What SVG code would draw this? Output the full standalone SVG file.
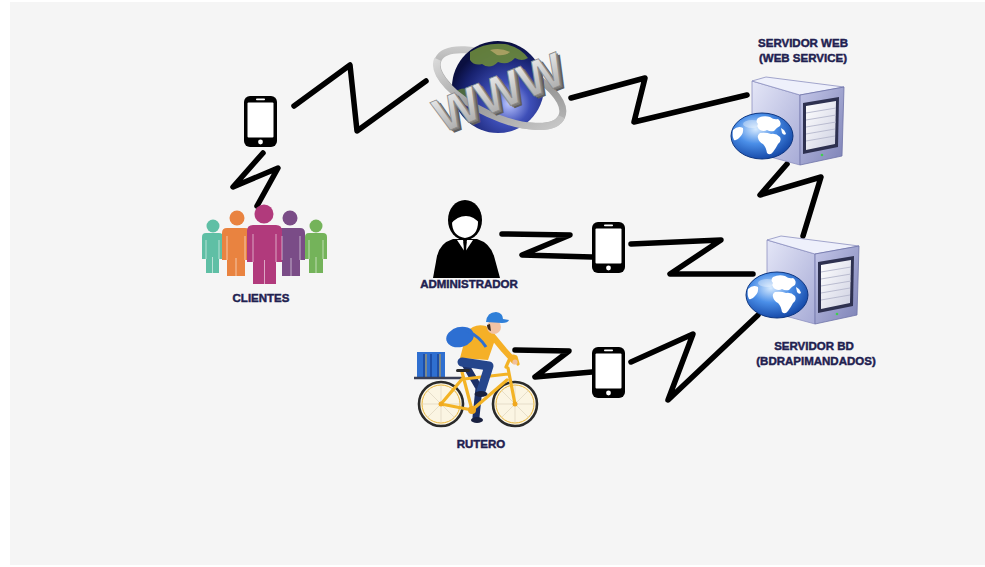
<svg xmlns="http://www.w3.org/2000/svg" xmlns:xlink="http://www.w3.org/1999/xlink" width="985" height="567" viewBox="0 0 985 567">
  <style>
    .wire { fill: none; stroke: #000; stroke-width: 5.5; stroke-linecap: round; stroke-linejoin: round; }
    .label { font-family: "Liberation Sans", Arial, sans-serif; font-weight: bold; font-size: 11.5px; fill: #1f2150; stroke: #1f2150; stroke-width: 0.45; text-anchor: middle; }
    .sep { stroke: #ffffff; stroke-opacity: 0.55; stroke-width: 1; fill: none; }
    .spoke { stroke: #d8cfb8; stroke-width: 0.6; }
    .frame { fill: none; stroke: #f3b325; stroke-width: 3.2; stroke-linecap: round; stroke-linejoin: round; }
    .leg { fill: none; stroke-linecap: round; stroke-linejoin: round; }
  </style>
  <defs>
    <!-- gradients for the network globe -->
    <radialGradient id="earth" cx="0.62" cy="0.68" r="0.65">
      <stop offset="0" stop-color="#b9c4ff"/>
      <stop offset="0.35" stop-color="#3e4fb8"/>
      <stop offset="0.8" stop-color="#17216e"/>
      <stop offset="1" stop-color="#0a0f40"/>
    </radialGradient>
    <linearGradient id="ringGrad" x1="0" y1="0" x2="1" y2="1">
      <stop offset="0" stop-color="#d9d9d9"/>
      <stop offset="0.5" stop-color="#9a9a9a"/>
      <stop offset="1" stop-color="#c8c8c8"/>
    </linearGradient>
    <linearGradient id="wwwFace" x1="0" y1="0" x2="0" y2="1">
      <stop offset="0" stop-color="#f4f4f4"/>
      <stop offset="1" stop-color="#a0a0a0"/>
    </linearGradient>
    <!-- server tower shading -->
    <linearGradient id="srvSide" x1="0" y1="0" x2="1" y2="1">
      <stop offset="0" stop-color="#e4e6f7"/>
      <stop offset="1" stop-color="#a7abd6"/>
    </linearGradient>
    <linearGradient id="srvFront" x1="0" y1="0" x2="1" y2="1">
      <stop offset="0" stop-color="#c3c6e8"/>
      <stop offset="1" stop-color="#7d82b6"/>
    </linearGradient>
    <linearGradient id="panel" x1="0" y1="0" x2="1" y2="1">
      <stop offset="0" stop-color="#ffffff"/>
      <stop offset="1" stop-color="#cfd1e2"/>
    </linearGradient>
    <radialGradient id="netGlobe" cx="0.4" cy="0.35" r="0.7">
      <stop offset="0" stop-color="#d6eaff"/>
      <stop offset="0.45" stop-color="#4b8fe8"/>
      <stop offset="1" stop-color="#1042a2"/>
    </radialGradient>

    <!-- smartphone -->
    <g id="phone">
      <rect x="0" y="0" width="33" height="51" rx="6" fill="#000"/>
      <rect x="3.5" y="6.5" width="26" height="35" rx="1" fill="#fff"/>
      <rect x="12" y="2.6" width="9" height="1.6" rx="0.8" fill="#fff"/>
      <circle cx="16.5" cy="46" r="2.4" fill="#fff"/>
    </g>

    <!-- server tower with globe badge, origin at tower top-left -->
    <g id="server">
      <polygon points="0,4 48,18 48,88 0,75" fill="url(#srvSide)" stroke="#8d91c0" stroke-width="0.8"/>
      <polygon points="0,4 14,0 92,10 48,18" fill="#eef0fb" stroke="#8d91c0" stroke-width="0.8"/>
      <polygon points="48,18 92,10 90,79 48,88" fill="url(#srvFront)" stroke="#6e73a8" stroke-width="0.8"/>
      <polygon points="51,26 87,20 86,70 51,77" fill="#2e3150"/>
      <polygon points="54,29 84,24 83,67 54,73" fill="url(#panel)"/>
      <g stroke="#b4b7cc" stroke-width="0.9">
        <line x1="54" y1="36" x2="84" y2="31"/>
        <line x1="54" y1="43" x2="84" y2="38"/>
        <line x1="54" y1="50" x2="84" y2="45"/>
        <line x1="54" y1="57" x2="83" y2="52"/>
        <line x1="54" y1="64" x2="83" y2="59"/>
      </g>
      <circle cx="70" cy="78" r="1.3" fill="#3fcf4f"/>
      <g transform="translate(10,59)">
        <ellipse cx="0" cy="0" rx="31" ry="23" fill="url(#netGlobe)" stroke="#0d3580" stroke-width="1"/>
        <path d="M-4,-18 Q2,-21 8,-19 Q12,-16 16,-17 Q20,-14 18,-10 Q14,-8 12,-5 Q8,-4 5,-6 Q2,-4 -2,-6 Q-6,-9 -4,-12 Q-7,-15 -4,-18 Z" fill="#fff"/>
        <path d="M-2,-3 Q4,-4 9,-2 Q14,-3 18,1 Q20,5 16,8 Q14,12 11,16 Q8,20 5,17 Q4,11 1,8 Q-3,6 -4,2 Q-5,-1 -2,-3 Z" fill="#fff"/>
        <path d="M-29,-6 Q-24,-11 -19,-8 Q-18,-3 -22,1 Q-25,5 -28,4 Q-30,0 -29,-6 Z" fill="#fff"/>
        <path d="M19,-8 Q23,-6 24,-2 Q22,0 20,-3 Z" fill="#fff"/>
        <ellipse cx="-10" cy="-12" rx="9" ry="4" fill="#fff" opacity="0.35"/>
      </g>
    </g>
  </defs>

  <!-- page -->
  <rect x="0" y="0" width="985" height="567" fill="#fff"/>
  <rect x="10" y="2" width="975" height="563" fill="#f5f5f5"/>

  <!-- radio links -->
  <g id="connectors">
    <path class="wire" d="M263,153 L233,187 L278,168 L257,206"/>
    <path class="wire" d="M294,106 L350,65 L357,131 L426,81"/>
    <path class="wire" d="M571,98 L645,78 L634,122 L747,95"/>
    <path class="wire" d="M787,164 L760,195 L821,177 L803,236"/>
    <path class="wire" d="M502,234 L570,235 L522,255 L592,257"/>
    <path class="wire" d="M631,244 L721,240 L670,274 L753,274"/>
    <path class="wire" d="M515,350 L569,351 L535,377 L592,372"/>
    <path class="wire" d="M631,362 L693,334 L668,400 L758,315"/>
  </g>

  <!-- client handset -->
  <g id="clientPhone">
    <use xlink:href="#phone" href="#phone" transform="translate(244,96)"/>
  </g>

  <!-- customers group -->
  <g id="clientes">
    <g fill="#5fbfa5">
      <circle cx="213" cy="226" r="6.5"/>
      <path d="M202,237 Q202,233 206,233 H219 Q223,233 223,237 V259 H219 V273 H206 V259 H202 Z"/>
    </g>
    <g fill="#74b35a">
      <circle cx="316" cy="226" r="6.5"/>
      <path d="M305,237 Q305,233 309,233 H323 Q327,233 327,237 V259 H323 V273 H309 V259 H305 Z"/>
    </g>
    <g fill="#e98340">
      <circle cx="237" cy="218" r="7.5"/>
      <path d="M222,233 Q222,228 227,228 H245 Q250,228 250,233 V260 H245 V276 H227 V260 H222 Z"/>
    </g>
    <g fill="#7a4c87">
      <circle cx="290" cy="218" r="7.5"/>
      <path d="M277,233 Q277,228 282,228 H300 Q305,228 305,233 V260 H300 V276 H282 V260 H277 Z"/>
    </g>
    <g fill="#b13a7c">
      <circle cx="264" cy="214" r="9.5"/>
      <path d="M247,231 Q247,225 253,225 H276 Q282,225 282,231 V262 H276 V284 H253 V262 H247 Z"/>
    </g>
    <g class="sep">
      <path d="M206,240 V259 M219,240 V259 M212.5,257 V273"/>
      <path d="M309,240 V259 M323,240 V259 M316,257 V273"/>
      <path d="M227,236 V260 M245,236 V260 M236,258 V276"/>
      <path d="M282,236 V260 M300,236 V260 M291,258 V276"/>
      <path d="M253,234 V262 M276,234 V262 M264.5,260 V284"/>
    </g>
    <text class="label" x="261" y="302">CLIENTES</text>
  </g>

  <!-- internet globe -->
  <g id="www">
    <ellipse cx="500" cy="88" rx="68" ry="28" transform="rotate(25 500 88)" fill="none" stroke="url(#ringGrad)" stroke-width="7"/>
    <circle cx="498" cy="87" r="46" fill="url(#earth)"/>
    <path d="M470,52 Q485,42 505,44 Q520,47 528,58 Q522,62 515,58 Q508,66 498,62 Q490,70 482,64 Q474,66 470,60 Z" fill="#6c8a3c" opacity="0.9"/>
    <path d="M490,50 Q500,47 510,52 Q505,56 497,55 Z" fill="#b8a86a" opacity="0.8"/>
    <path d="M455,92 Q462,86 470,90 Q468,98 460,100 Z" fill="#5a7a34" opacity="0.8"/>
    <path d="M437.6,59.3 A68 28 25 0 0 561.6 116.7" fill="none" stroke="url(#ringGrad)" stroke-width="7"/>
    <g transform="translate(499,92) rotate(-22)" font-family="Liberation Sans, Arial, sans-serif" font-weight="bold" font-size="48" text-anchor="middle">
      <text x="2.5" y="21" fill="#5e5e5e">WWW</text>
      <text x="1.2" y="19" fill="#7a7a7a">WWW</text>
      <text x="0" y="17" fill="url(#wwwFace)" stroke="#8a8a8a" stroke-width="0.8">WWW</text>
    </g>
  </g>

  <!-- web server -->
  <g id="servidorWeb">
    <use xlink:href="#server" href="#server" transform="translate(752,77)"/>
    <text class="label" x="803" y="47">SERVIDOR WEB</text>
    <text class="label" x="803" y="62">(WEB SERVICE)</text>
  </g>

  <!-- database server -->
  <g id="servidorBD">
    <use xlink:href="#server" href="#server" transform="translate(767,236)"/>
    <text class="label" x="814" y="350">SERVIDOR BD</text>
    <text class="label" x="816" y="365">(BDRAPIMANDADOS)</text>
  </g>

  <!-- administrator -->
  <g id="administrador">
    <path d="M433,278 L437,256 Q440,243 453,239 L477,239 Q490,243 494,256 L500,278 Z" fill="#000"/>
    <ellipse cx="465" cy="220" rx="17" ry="20" fill="#000"/>
    <path d="M452,222 Q452,211 465,212 Q478,211 478,222 Q478,236 465,238 Q452,236 452,222 Z" fill="#fff"/>
    <path d="M451,224 Q452,208 466,208 Q480,208 480,224 Q474,216 466,216 Q457,216 451,224 Z" fill="#000"/>
    <polygon points="457,240 463,240 465,252" fill="#fff"/>
    <polygon points="473,240 467,240 465,252" fill="#fff"/>
    <polygon points="463.5,242 466.5,242 466,254 464,254" fill="#000"/>
    <text class="label" x="469" y="288">ADMINISTRADOR</text>
  </g>
  <g id="adminPhone">
    <use xlink:href="#phone" href="#phone" transform="translate(592,222)"/>
  </g>

  <!-- courier on bicycle -->
  <g id="rutero">
    <!-- cargo box and rack -->
    <rect x="417" y="352" width="28" height="25" fill="#2f6fd0"/>
    <g stroke="#1d4ea8" stroke-width="2">
      <line x1="424" y1="354" x2="424" y2="377"/>
      <line x1="431" y1="354" x2="431" y2="377"/>
      <line x1="438" y1="354" x2="438" y2="377"/>
    </g>
    <g stroke="#f3b325" stroke-width="0.8">
      <line x1="426" y1="354" x2="426" y2="377"/>
      <line x1="440" y1="354" x2="440" y2="377"/>
    </g>
    <line x1="414" y1="378" x2="465" y2="378" stroke="#3a3f55" stroke-width="2.5"/>
    <!-- wheels -->
    <g>
      <circle cx="441" cy="404" r="22" fill="#fbf5e3" stroke="#2a2a2a" stroke-width="2.6"/>
      <circle cx="441" cy="404" r="19" fill="none" stroke="#e8b43a" stroke-width="1"/>
      <g class="spoke">
        <line x1="422" y1="404" x2="460" y2="404"/><line x1="441" y1="385" x2="441" y2="423"/>
        <line x1="427.6" y1="390.6" x2="454.4" y2="417.4"/><line x1="427.6" y1="417.4" x2="454.4" y2="390.6"/>
      </g>
      <circle cx="515" cy="404" r="22" fill="#fbf5e3" stroke="#2a2a2a" stroke-width="2.6"/>
      <circle cx="515" cy="404" r="19" fill="none" stroke="#e8b43a" stroke-width="1"/>
      <g class="spoke">
        <line x1="496" y1="404" x2="534" y2="404"/><line x1="515" y1="385" x2="515" y2="423"/>
        <line x1="501.6" y1="390.6" x2="528.4" y2="417.4"/><line x1="501.6" y1="417.4" x2="528.4" y2="390.6"/>
      </g>
    </g>
    <!-- far leg -->
    <path class="leg" d="M465,364 L479,388 L476,417" stroke="#1c2f66" stroke-width="7"/>
    <ellipse cx="477" cy="420" rx="6" ry="3" fill="#1a2140"/>
    <!-- frame -->
    <path class="frame" d="M441,404 L472,410 L462,372 M441,404 L463,378 M464,379 L508,374 M472,410 L507,380 M508,368 L515,404 M506,367 L510,358 Q512,355 516,357 L518,364"/>
    <circle cx="441" cy="404" r="2.5" fill="#f0a820"/>
    <circle cx="515" cy="404" r="2.5" fill="#f0a820"/>
    <circle cx="472" cy="410" r="4" fill="#f0a820"/>
    <rect x="456" y="369" width="14" height="3" rx="1.5" fill="#2a2a2a"/>
    <!-- rider -->
    <path d="M460,358 L467,332 Q474,323 486,326 L496,337 L488,360 Z" fill="#f5b027"/>
    <path class="leg" d="M462,362 L489,366 L481,391" stroke="#25468c" stroke-width="9"/>
    <ellipse cx="481" cy="394" rx="6.5" ry="3" fill="#1a2140"/>
    <path class="leg" d="M489,332 L504,350 L514,361" stroke="#f5b027" stroke-width="6"/>
    <circle cx="515" cy="362" r="2.6" fill="#efc0a0"/>
    <ellipse cx="460" cy="337" rx="14" ry="10" transform="rotate(-15 460 337)" fill="#2d6fd2"/>
    <path d="M466,330 Q480,337 486,347" fill="none" stroke="#2d6fd2" stroke-width="3"/>
    <circle cx="494" cy="327" r="7" fill="#f2c3a5"/>
    <path d="M487,325 Q487,330 491,331 L490,324 Z" fill="#3a2a20"/>
    <path d="M486,322 Q487,312 496,312 Q503,313 503,319 L509,320 Q508,323 502,323 Z" fill="#2f7fd8"/>
    <text class="label" x="481" y="448">RUTERO</text>
  </g>
  <g id="ruteroPhone">
    <use xlink:href="#phone" href="#phone" transform="translate(592,347)"/>
  </g>
</svg>
